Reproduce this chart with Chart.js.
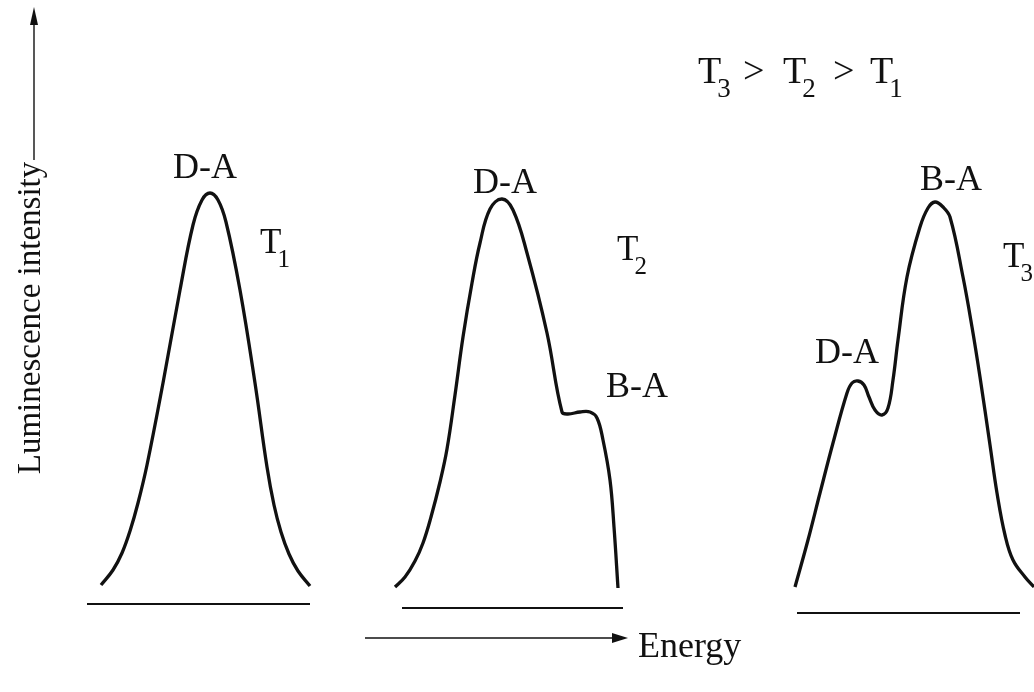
<!DOCTYPE html>
<html>
<head>
<meta charset="utf-8">
<script src="https://cdn.jsdelivr.net/npm/chart.js@4/dist/chart.umd.min.js"></script>
<style>
  html, body { margin: 0; padding: 0; background: #fff; }
  #wrap { width: 1034px; height: 692px; position: relative; }
</style>
</head>
<body>
<div id="wrap"><canvas id="spectra"></canvas></div>
<script>
// energy (arb. units) and luminescence intensity (arb. units, 0 = baseline)
const energyT1 = [101, 113, 122, 130, 138, 147, 163, 180, 193, 202, 210, 218, 226, 240, 255, 267, 274, 281, 289, 298, 310];
const intensityT1 = [20, 35, 52, 74, 102, 140, 222, 315, 380, 405, 412, 405, 383, 315, 222, 138, 100, 73, 51, 34, 19];

const energyT2 = [395, 405, 415, 423, 431, 440, 447, 455, 463, 472, 480, 490, 502, 513, 527, 547, 562, 568, 580, 590, 597, 603, 610, 614, 618];
const intensityT2 = [18, 28, 44, 62, 88, 123, 156, 210, 268, 322, 362, 396, 406, 395, 352, 272, 193, 191, 193, 193, 187, 165, 125, 78, 17];

const energyT3 = [795, 808, 820, 833, 847, 852, 858, 864, 869, 875, 882, 888, 893, 898, 907, 920, 928, 935, 943, 950, 963, 972, 980, 990, 997, 1005, 1013, 1025, 1034];
const intensityT3 = [18, 65, 112, 162, 212, 222, 224, 220, 208, 195, 190, 197, 225, 265, 328, 378, 397, 403, 398, 388, 328, 278, 228, 160, 112, 70, 45, 28, 18];

// zero lines under each spectrum
const baseT1 = [[87, 1], [310, 1]];
const baseT2 = [[402, -3], [623, -3]];
const baseT3 = [[797, -8], [1020, -8]];

const peakNames = ['D-A', 'D-A', 'B-A', 'D-A', 'B-A'];
const peakAt = [[205, 427], [505, 412], [637, 208], [847, 242], [951, 415]];

const tempSubs = ['1', '2', '3'];
const tempAt = [[260, 352], [617, 345], [1003, 338]];

function pts(xs, ys) {
    return xs.map(function (x, i) { return { x: x, y: ys[i] }; });
}
function pairs(list) {
    return list.map(function (p) { return { x: p[0], y: p[1] }; });
}

const serif = '"Liberation Serif", "DejaVu Serif", serif';

function drawT(ctx, x, y, sub, size) {
    ctx.font = size + 'px ' + serif;
    ctx.fillText('T', x, y);
    const w = ctx.measureText('T').width;
    ctx.font = Math.round(size * 0.7) + 'px ' + serif;
    ctx.fillText(sub, x + w - 4, y + 14);
}

const labelPlugin = {
    id: 'labels',
    afterDatasetsDraw: function (chart) {
        const ctx = chart.ctx;
        const sx = chart.scales.x, sy = chart.scales.y;
        const px = function (v) { return sx.getPixelForValue(v); };
        const py = function (v) { return sy.getPixelForValue(v); };
        ctx.save();
        ctx.fillStyle = '#111';
        ctx.strokeStyle = '#111';
        ctx.textBaseline = 'alphabetic';

        // peak names
        ctx.textAlign = 'center';
        ctx.font = '36px ' + serif;
        peakNames.forEach(function (n, i) {
            ctx.fillText(n, px(peakAt[i][0]), py(peakAt[i][1]));
        });

        // temperatures
        ctx.textAlign = 'left';
        tempSubs.forEach(function (s, i) {
            drawT(ctx, px(tempAt[i][0]), py(tempAt[i][1]), s, 35);
        });

        // T3 > T2 > T1
        const fy = py(522);
        drawT(ctx, px(698), fy, '3', 38);
        ctx.font = '38px ' + serif;
        ctx.fillText('>', px(743), fy);
        drawT(ctx, px(783), fy, '2', 38);
        ctx.font = '38px ' + serif;
        ctx.fillText('>', px(833), fy);
        drawT(ctx, px(870), fy, '1', 38);

        // energy axis arrow
        ctx.lineWidth = 1.6;
        ctx.beginPath();
        ctx.moveTo(px(365), py(-33));
        ctx.lineTo(px(615), py(-33));
        ctx.stroke();
        ctx.beginPath();
        ctx.moveTo(px(628), py(-33));
        ctx.lineTo(px(612), py(-28));
        ctx.lineTo(px(612), py(-38));
        ctx.closePath();
        ctx.fill();
        ctx.font = '36px ' + serif;
        ctx.fillText('Energy', px(638), py(-52));

        // intensity axis arrow
        ctx.lineWidth = 1.4;
        ctx.beginPath();
        ctx.moveTo(px(34), py(445));
        ctx.lineTo(px(34), py(580));
        ctx.stroke();
        ctx.beginPath();
        ctx.moveTo(px(34), py(598));
        ctx.lineTo(px(30), py(580));
        ctx.lineTo(px(38), py(580));
        ctx.closePath();
        ctx.fill();
        ctx.translate(px(40), py(605 - 318));
        ctx.rotate(-Math.PI / 2);
        ctx.textAlign = 'center';
        ctx.font = '33px ' + serif;
        ctx.fillText('Luminescence intensity', 0, 0);
        ctx.restore();
    }
};

function curve(data, w) {
    return {
        data: data,
        borderColor: '#111',
        borderWidth: w,
        pointRadius: 0,
        fill: false,
        tension: 0.4
    };
}

new Chart(document.getElementById('spectra'), {
    type: 'line',
    data: {
        datasets: [
            curve(pts(energyT1, intensityT1), 3.3),
            curve(pts(energyT2, intensityT2), 3.3),
            curve(pts(energyT3, intensityT3), 3.3),
            curve(pairs(baseT1), 2),
            curve(pairs(baseT2), 2),
            curve(pairs(baseT3), 2)
        ]
    },
    options: {
        responsive: true,
        maintainAspectRatio: false,
        animation: false,
        layout: { padding: 0 },
        plugins: { legend: { display: false }, tooltip: { enabled: false } },
        scales: {
            x: { type: 'linear', min: 0, max: 1034, display: false },
            y: { type: 'linear', min: -87, max: 605, display: false }
        }
    },
    plugins: [labelPlugin]
});
</script>
</body>
</html>
